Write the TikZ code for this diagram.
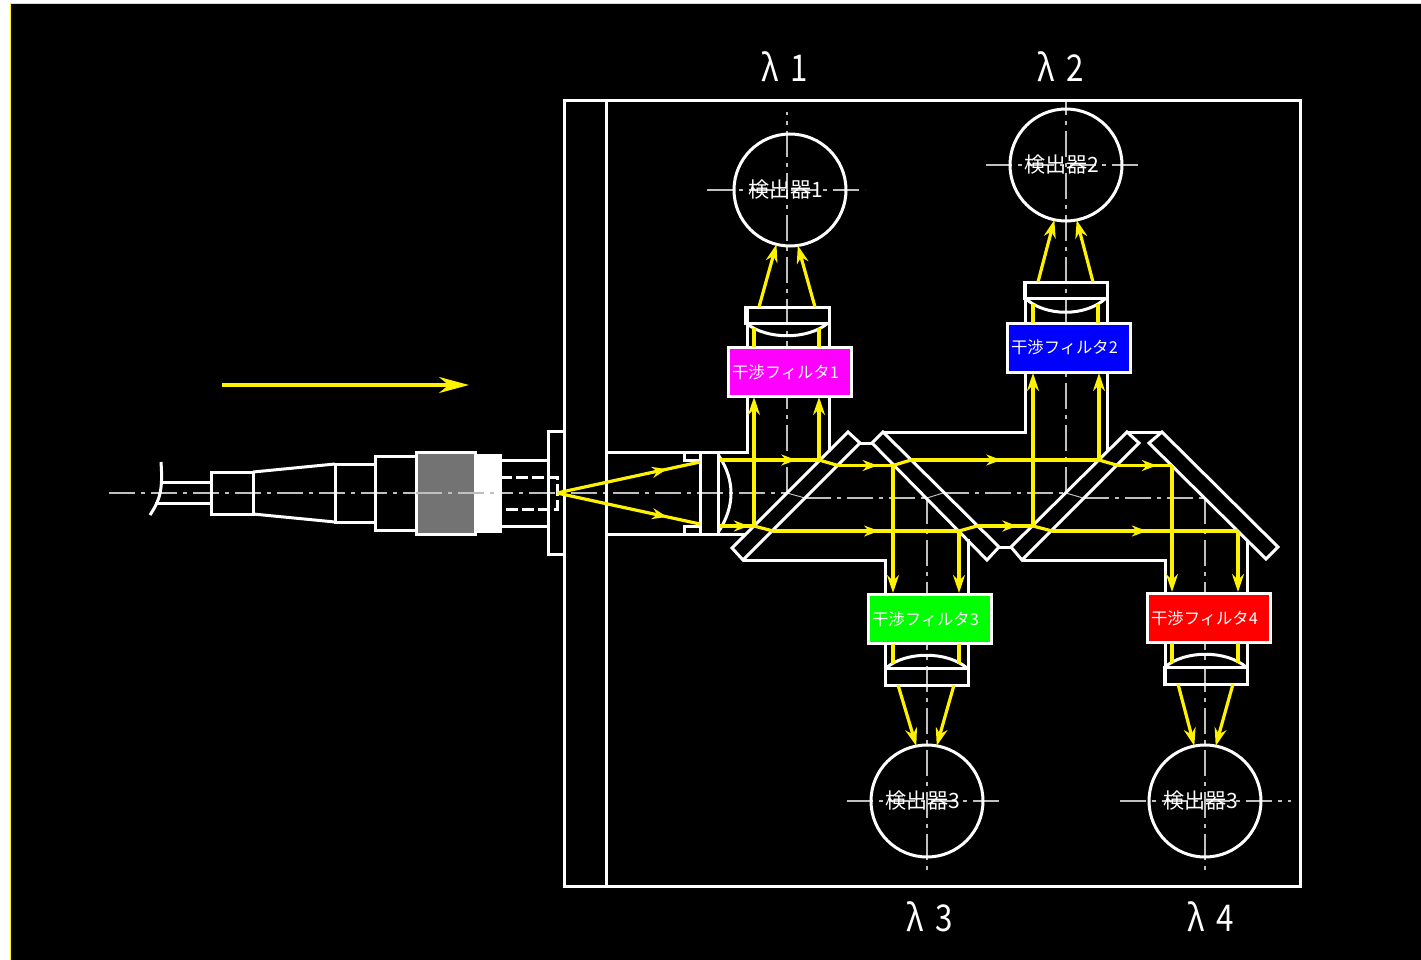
\documentclass[tikz,border=0pt]{standalone}
\usepackage{fontspec}
\setmainfont{Noto Sans CJK JP}
\newfontfamily\lamfont[FakeStretch=0.85]{Noto Sans CJK JP}
\usetikzlibrary{arrows.meta,decorations.markings}
\definecolor{filtermag}{RGB}{255,0,255}
\def\px{0.02cm}
\newcommand{\lbl}[1]{#1\kern0.18cm\relax}
\tikzset{
  part/.style={draw=white,line width=3*\px,line join=miter},
  axis/.style={draw=black!25!white,line width=1.2*\px,dash pattern=on 26*\px off 6*\px on 4*\px off 6*\px},
  jog/.style={draw=black!25!white,line width=1*\px},
  ray/.style={draw=yellow,line width=3.2*\px},
  raytip/.style={ray,-{Stealth[length=18*\px,width=12*\px]}},
  midtip/.style={postaction={decorate},decoration={markings,mark=at position #1 with {\arrow{Stealth[length=15*\px,width=11*\px,fill=yellow,color=yellow]}}}},
  detector/.style={circle,draw=white,line width=3*\px,minimum size=112*\px,inner sep=0pt,outer sep=0pt,text=white,font=\fontsize{12}{12}\selectfont},
  filterbox/.style={rectangle,draw=white,line width=3*\px,minimum width=123*\px,minimum height=49*\px,inner sep=0pt,outer sep=0pt,text=white,font=\fontsize{9.3}{10}\selectfont},
  lam/.style={text=white,inner sep=0pt,font=\fontsize{21}{21}\selectfont\lamfont}
}
\begin{document}
\begin{tikzpicture}[x=0.02cm,y=-0.02cm]
\useasboundingbox (0,0) rectangle (1421,960);
\fill[white] (0,0) rectangle (1421,960);
\fill[black] (10.5,3.5) rectangle (1421,960);
\draw[yellow,line width=1*\px] (10.5,960) -- (10.5,3.5) -- (1421,3.5);
% center lines
\coordinate (a1) at (787,493);
\coordinate (a2) at (805,498);
\coordinate (a3) at (927,498);
\coordinate (a4) at (943,493);
\coordinate (a5) at (1066,493);
\coordinate (a6) at (1083,498);
\coordinate (a7) at (1205,498);
\draw[axis] (109,493) -- (a1);
\draw[jog] (a1) -- (a2);
\draw[axis] (a2) -- (a3);
\draw[jog] (a3) -- (a4);
\draw[axis] (a4) -- (a5);
\draw[jog] (a5) -- (a6);
\draw[axis] (a6) -- (a7);
\draw[axis] (a1) -- (787,112);
\draw[axis] (a5) -- (1066,100);
\draw[axis] (a3) -- (927,872);
\draw[axis] (a7) -- (1205,875);
\draw[axis] (707,190) -- (865,190);
\draw[axis] (986,165) -- (1143,165);
\draw[axis] (847,801) -- (1003,801);
\draw[axis] (1120,801) -- (1291,801);
% fiber connector
\draw[part] (161,462) .. controls (163,490) and (160,500) .. (150,515);
\draw[part] (162,482) -- (211,482);
\draw[part] (155,503) -- (211,503);
\draw[part] (211,472) rectangle (253,514);
\draw[part] (253,472) -- (335,464);
\draw[part] (253,514) -- (335,522);
\draw[part] (335,464) rectangle (375,522);
\draw[part] (375,456) rectangle (416,530);
\draw[part,fill=black!55!white] (416,452) rectangle (475,534);
\draw[part,fill=white] (475,455) rectangle (500,531);
\draw[axis] (416,493) -- (500,493);
\draw[part] (500,460) -- (548,460);
\draw[part] (500,526) -- (548,526);
\draw[part,dash pattern=on 12*\px off 4*\px] (500,477) -- (557,477) -- (557,509) -- (500,509);
\draw[part] (548,431) rectangle (564,554);
% housing
\draw[part] (564,100) rectangle (1300,886);
\draw[part] (606,100) -- (606,886);
\draw[part] (606,452) -- (747,452) -- (747,307);
\draw[part] (606,534) -- (745,534);
\draw[part] (829,452) -- (829,307);
\draw[part] (883,432) -- (1025,432) -- (1025,282);
\draw[part] (1107,450) -- (1107,282);
\draw[part] (743,560) -- (885,560) -- (885,684);
\draw[part] (968,539) -- (968,684);
\draw[part] (1022,560) -- (1165,560) -- (1165,684);
\draw[part] (1247,540) -- (1247,684);
% collimator lens
\draw[part] (700,452) rectangle (718,534);
\draw[part] (684,452) -- (684,460) -- (700,460);
\draw[part] (684,534) -- (684,526) -- (700,526);
\draw[part] (719,456) .. controls (735,480) and (735,506) .. (719,531);
% splitters
\draw[part] (848,432) -- (860,443) -- (743,560) -- (732,548) -- cycle;
\draw[part] (860,443) -- (872,443);
\draw[part] (883,432) -- (872,443) -- (987,560) -- (999,547) -- cycle;
\draw[part] (999,547) -- (1011,547);
\draw[part] (1127,432) -- (1139,443) -- (1022,560) -- (1011,547) -- cycle;
\draw[part] (1127,432) -- (1162,432);
\draw[part] (1162,432) -- (1149,443) -- (1266,559) -- (1278,547) -- cycle;
% receiver lenses
\draw[part] (745,307) rectangle (829,323);
\draw[part] (746,323) .. controls (766,340) and (808,340) .. (828,323);
\draw[part] (1024,282) rectangle (1107,298);
\draw[part] (1025,298) .. controls (1045,317) and (1086,317) .. (1106,298);
\draw[part] (885,668) rectangle (968,685);
\draw[part] (886,668) .. controls (906,651) and (947,651) .. (967,668);
\draw[part] (1164,667) rectangle (1247,684);
\draw[part] (1165,667) .. controls (1185,650) and (1226,650) .. (1246,667);
% rays
\coordinate (in) at (557,493);
\coordinate (u1) at (700,462);
\coordinate (l1) at (700,524);
\coordinate (u2) at (720,460);
\coordinate (u3) at (819,460);
\coordinate (u4) at (838,465.5);
\coordinate (u5) at (893,465.5);
\coordinate (u6) at (911,460);
\coordinate (u7) at (1099,460);
\coordinate (u8) at (1118,465.5);
\coordinate (u9) at (1172,465.5);
\coordinate (l2) at (720,526);
\coordinate (l3) at (754,526);
\coordinate (l4) at (773,531);
\coordinate (l5) at (959,531);
\coordinate (l6) at (977,526);
\coordinate (l7) at (1033,526);
\coordinate (l8) at (1052,531);
\coordinate (l9) at (1238,531);
\draw[ray,midtip=0.77] (in) -- (u1);
\draw[ray,midtip=0.77] (in) -- (l1);
\draw[ray,midtip=0.77] (u2) -- (u3);
\draw[ray] (u3) -- (u4);
\draw[ray,midtip=0.72] (u4) -- (u5);
\draw[ray] (u5) -- (u6);
\draw[ray,midtip=0.48] (u6) -- (u7);
\draw[ray] (u7) -- (u8);
\draw[ray,midtip=0.72] (u8) -- (u9);
\draw[ray,midtip=0.85] (l2) -- (l3);
\draw[ray] (l3) -- (l4);
\draw[ray,midtip=0.57] (l4) -- (l5);
\draw[ray] (l5) -- (l6);
\draw[ray,midtip=0.72] (l6) -- (l7);
\draw[ray] (l7) -- (l8);
\draw[ray,midtip=0.51] (l8) -- (l9);
% filters and detectors
\node[filterbox,fill=filtermag] (filter1) at (790,372) {\lbl{干渉フィルタ1}};
\node[filterbox,fill=blue] (filter2) at (1069,347.5) {\lbl{干渉フィルタ2}};
\node[filterbox,fill=green] (filter3) at (930,619) {\lbl{干渉フィルタ3}};
\node[filterbox,fill=red] (filter4) at (1209,618) {\lbl{干渉フィルタ4}};
\node[detector] (det1) at (790,190) {\lbl{検出器1}};
\node[detector] (det2) at (1066,165) {\lbl{検出器2}};
\node[detector] (det3) at (927,801) {\lbl{検出器3}};
\node[detector] (det4) at (1205,801) {\lbl{検出器3}};
\node[lam] (lam1) at (785,67) {λ\kern0.1cm\ 1};
\node[lam] (lam2) at (1061,67) {λ\kern0.1cm\ 2};
\node[lam] (lam3) at (930,917) {λ\kern0.1cm\ 3};
\node[lam] (lam4) at (1211,917) {λ\kern0.1cm\ 4};
% rays to the filters
\draw[raytip] (l3) -- (754,397);
\draw[raytip] (u3) -- (819,397);
\draw[raytip] (l7) -- (1033,373);
\draw[raytip] (u7) -- (1099,373);
\draw[raytip] (u5) -- (893,593);
\draw[raytip] (l5) -- (959,593);
\draw[raytip] (u9) -- (1172,592);
\draw[raytip] (l9) -- (1238,592);
\draw[ray] (754,347) -- (754,328);
\draw[ray] (819,347) -- (819,328);
\draw[ray] (1033,323) -- (1033,304);
\draw[ray] (1098,323) -- (1098,304);
\draw[ray] (893,644) -- (893,664);
\draw[ray] (959,644) -- (959,664);
\draw[ray] (1172,643) -- (1172,663);
\draw[ray] (1238,643) -- (1238,663);
% rays to the detectors
\draw[raytip] (759,307) -- (det1.256);
\draw[raytip] (815,307) -- (det1.278);
\draw[raytip] (1038,282) -- (det2.258);
\draw[raytip] (1093,282) -- (det2.281);
\draw[raytip] (898,685) -- (det3.101);
\draw[raytip] (954,685) -- (det3.80);
\draw[raytip] (1178,684) -- (det4.101);
\draw[raytip] (1233,684) -- (det4.79);
% beam direction
\coordinate (b1) at (222,385);
\coordinate (b2) at (469,385);
\draw[ray,-{Stealth[length=30*\px,width=16*\px]}] (b1) -- (b2);
\end{tikzpicture}
\end{document}
